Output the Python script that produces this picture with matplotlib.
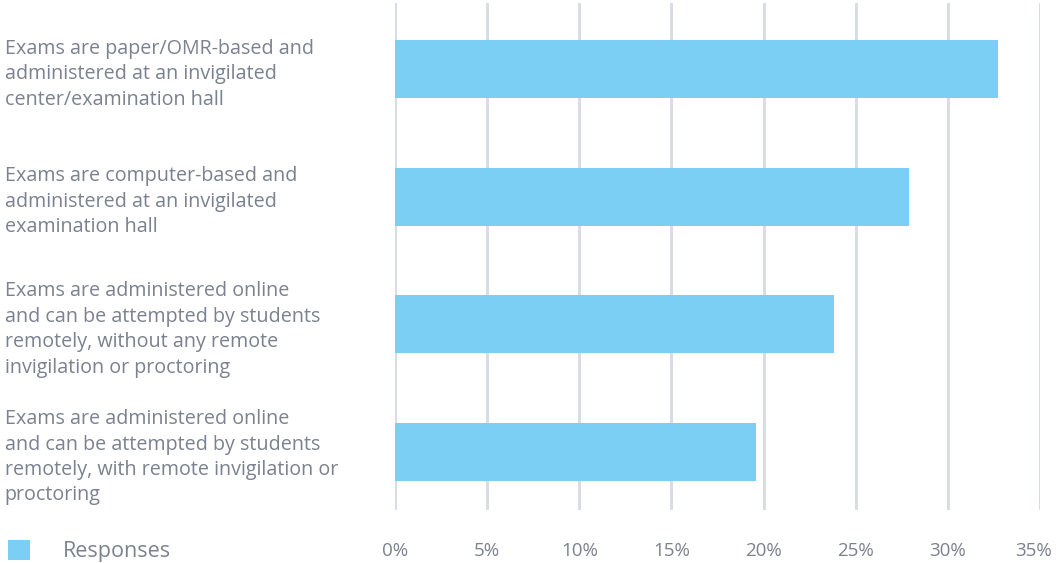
import matplotlib.pyplot as plt
import matplotlib.transforms as mtransforms
import numpy as np

plt.rcParams['font.family'] = ['Open Sans', 'DejaVu Sans']

labels = [
    "Exams are paper/OMR-based and\nadministered at an invigilated\ncenter/examination hall",
    "Exams are computer-based and\nadministered at an invigilated\nexamination hall",
    "Exams are administered online\nand can be attempted by students\nremotely, without any remote\ninvigilation or proctoring",
    "Exams are administered online\nand can be attempted by students\nremotely, with remote invigilation or\nproctoring",
]
responses = [32.7, 27.9, 23.8, 19.6]
xticks = [0, 5, 10, 15, 20, 25, 30, 35]

text_col = '#7b818f'
bar_col = '#7bcff5'
grid_col = '#d9dce3'

fig = plt.figure(figsize=(10.56, 5.63), dpi=100)
ax = fig.add_axes([395 / 1056, 1 - 510 / 563, 645 / 1056, 507 / 563])

pos = np.arange(len(labels))
bars = ax.barh(pos, responses, height=0.454, color=bar_col, zorder=3, label='Responses')

ax.set_xlim(0, 35)
ax.set_ylim(3.454, -0.517)
ax.set_xticks(xticks)
ax.set_xticklabels([f'{t}%' for t in xticks])
ax.set_yticks(pos)
ax.set_yticklabels(labels, ha='left', linespacing=1.36)
ax.tick_params(axis='y', length=0, pad=281, labelsize=14.2, labelcolor=text_col)
ax.tick_params(axis='x', length=0, pad=23, labelsize=13.5, labelcolor=text_col)
ax.grid(axis='x', color=grid_col, lw=2.2, zorder=0)
ax.grid(axis='y', visible=False)
for s in ax.spines.values():
    s.set_visible(False)

# last tick label pulled in so it stays inside the picture
last = ax.get_xticklabels()[-1]
last.set_transform(last.get_transform() +
                   mtransforms.ScaledTranslation(-6 / 100, 0, fig.dpi_scale_trans))

fig.legend(handles=[bars], loc='center left', bbox_to_anchor=(0.001, 1 - 551 / 563),
           frameon=False, fontsize=15.5, labelcolor=text_col,
           handlelength=1.05, handleheight=1.05, handletextpad=1.5,
           borderaxespad=0, borderpad=0.3)

fig.savefig('out.png', dpi=100)
